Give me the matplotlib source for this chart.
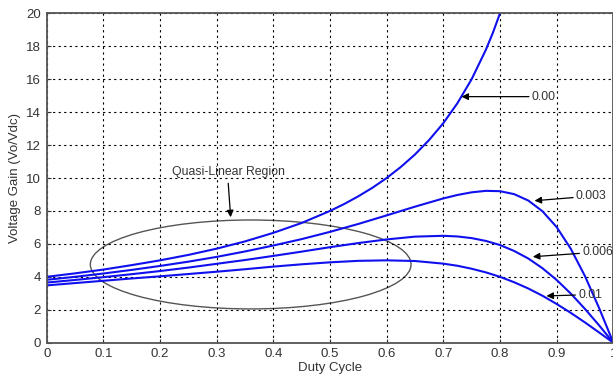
import numpy as np
import matplotlib
matplotlib.use("Agg")
import matplotlib.pyplot as plt
import matplotlib.patches as patches

plt.rcParams["font.family"] = ["Liberation Sans", "DejaVu Sans"]

# duty cycle samples
duty = [0.0, 0.05, 0.1, 0.15, 0.2, 0.25, 0.3, 0.35, 0.4, 0.45, 0.5, 0.55, 0.6,
        0.65, 0.7, 0.725, 0.75, 0.775, 0.8, 0.825, 0.85, 0.875, 0.9, 0.925,
        0.95, 0.975, 1.0]
duty_000 = [0.0, 0.05, 0.1, 0.15, 0.2, 0.25, 0.3, 0.35, 0.4, 0.45, 0.5, 0.525,
            0.55, 0.575, 0.6, 0.625, 0.65, 0.675, 0.7, 0.725, 0.75, 0.775,
            0.7875, 0.8]

# gain curves
gain_000 = [4.00, 4.21, 4.44, 4.71, 5.00, 5.33, 5.71, 6.15, 6.67, 7.27, 8.00,
            8.42, 8.89, 9.41, 10.0, 10.67, 11.43, 12.31, 13.33, 14.55, 16.0,
            17.78, 18.82, 20.0]
gain_003 = [3.82, 4.00, 4.20, 4.42, 4.66, 4.92, 5.21, 5.54, 5.90, 6.29, 6.73,
            7.21, 7.73, 8.26, 8.76, 8.97, 9.13, 9.22, 9.20, 9.02, 8.63, 7.98,
            7.02, 5.70, 4.04, 2.10, 0.0]
gain_006 = [3.65, 3.81, 3.98, 4.16, 4.35, 4.56, 4.79, 5.02, 5.27, 5.53, 5.80,
            6.05, 6.27, 6.44, 6.49, 6.45, 6.35, 6.18, 5.93, 5.57, 5.11, 4.52,
            3.81, 2.98, 2.05, 1.05, 0.0]
gain_010 = [3.48, 3.62, 3.76, 3.90, 4.03, 4.17, 4.31, 4.46, 4.62, 4.76, 4.88,
            4.97, 5.00, 4.96, 4.80, 4.67, 4.49, 4.27, 4.00, 3.67, 3.29, 2.85,
            2.35, 1.81, 1.23, 0.62, 0.0]

labels = ["0.00", "0.003", "0.006", "0.01"]
# (text position, arrow tip) for each curve label
label_text = [(0.856, 14.94), (0.934, 8.9), (0.945, 5.5), (0.938, 2.92)]
label_tip = [(0.732, 14.94), (0.861, 8.62), (0.858, 5.22), (0.882, 2.84)]

fig = plt.figure(figsize=(6.13, 3.77), dpi=100)
ax = fig.add_axes([0.0762, 0.091, 0.9243, 0.8737])

blue = "#1010ee"
ax.plot(duty_000, gain_000, color=blue, lw=1.5)
ax.plot(duty, gain_003, color=blue, lw=1.5)
ax.plot(duty, gain_006, color=blue, lw=1.5)
ax.plot(duty, gain_010, color=blue, lw=1.5)

ax.set_xlim(0, 1)
ax.set_ylim(0, 20)
ax.set_xticks(np.arange(0, 1.01, 0.1))
ax.set_xticklabels(["0", "0.1", "0.2", "0.3", "0.4", "0.5", "0.6", "0.7",
                    "0.8", "0.9", "1"])
ax.set_yticks(np.arange(0, 21, 2))
ax.grid(True, color="black", linestyle=(0, (2, 3)), linewidth=0.8)
ax.tick_params(direction="in", length=3, labelsize=9.5, colors="#333333",
               pad=4)
for sp in ax.spines.values():
    sp.set_color("#555555")
    sp.set_linewidth(1.3)

ax.set_xlabel("Duty Cycle", fontsize=9.5, color="#333333", labelpad=1)
ax.set_ylabel("Voltage Gain (Vo/Vdc)", fontsize=9.5, color="#333333",
              labelpad=4)

# quasi-linear region
ell = patches.Ellipse((0.36, 4.75), 0.566, 5.4, fill=False,
                      edgecolor="#555555", linewidth=1.0)
ax.add_patch(ell)
ax.text(0.32, 10.35, "Quasi-Linear Region", fontsize=8.8, color="#333333",
        ha="center", va="center")
ax.annotate("", xy=(0.325, 7.45), xytext=(0.32, 9.85),
            arrowprops=dict(arrowstyle="-|>", color="black", lw=0.9,
                            mutation_scale=10))

for lab, txt, tip in zip(labels, label_text, label_tip):
    ax.annotate(lab, xy=tip, xytext=txt, fontsize=8.8, color="#333333",
                va="center", ha="left",
                arrowprops=dict(arrowstyle="-|>", color="black", lw=0.9,
                                mutation_scale=10, shrinkA=0, shrinkB=0))

fig.savefig("out.png", dpi=100)
